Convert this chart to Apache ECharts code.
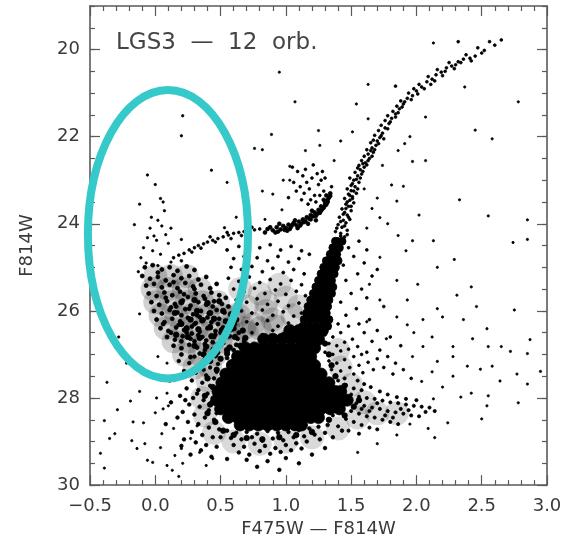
<!DOCTYPE html>
<html>
<head>
<meta charset="utf-8">
<script src="https://cdn.jsdelivr.net/npm/echarts@6/dist/echarts.min.js"></script>
<style>html,body{margin:0;padding:0;background:#fff;}#c{width:567px;height:543px;}</style>
</head>
<body>
<div id="c"></div>
<script>
// ---- text / ticks ----
const titleText = 'LGS3  —  12  orb.';
const xName = 'F475W — F814W';
const yName = 'F814W';
const xRange = [-0.5, 3.0];
const yRange = [19, 30];
const yLabelValues = [20, 22, 24, 26, 28, 30];
// highlighted region (data units): centre x, centre y, half-width, half-height
const ellipseRegion = [0.097, 24.24, 0.613, 3.31];

// ---- data (F475W-F814W, F814W) ----
const coreBlob = [
[1.03,26.45],[1.10,26.45],[1.17,26.45],[1.24,26.45],[1.28,26.45],
[0.83,26.65],[0.90,26.65],[0.97,26.65],[1.04,26.65],[1.11,26.65],[1.18,26.65],[1.25,26.65],
[0.69,26.85],[0.76,26.85],[0.83,26.85],[0.90,26.85],[0.97,26.85],[1.04,26.85],[1.11,26.85],[1.17,26.85],[1.22,26.85],
[0.63,27.05],[0.70,27.05],[0.77,27.05],[0.84,27.05],[0.91,27.05],[0.98,27.05],[1.05,27.05],[1.12,27.05],[1.19,27.05],
[0.59,27.25],[0.66,27.25],[0.73,27.25],[0.80,27.25],[0.87,27.25],[0.94,27.25],[1.01,27.25],[1.08,27.25],[1.15,27.25],[1.22,27.25],
[0.54,27.45],[0.61,27.45],[0.68,27.45],[0.75,27.45],[0.82,27.45],[0.89,27.45],[0.96,27.45],[1.03,27.45],[1.10,27.45],[1.17,27.45],[1.24,27.45],[1.27,27.45],
[0.51,27.65],[0.58,27.65],[0.65,27.65],[0.72,27.65],[0.79,27.65],[0.86,27.65],[0.93,27.65],[1.00,27.65],[1.07,27.65],[1.14,27.65],[1.21,27.65],[1.28,27.65],[1.33,27.65],
[0.48,27.85],[0.55,27.85],[0.62,27.85],[0.69,27.85],[0.76,27.85],[0.83,27.85],[0.90,27.85],[0.97,27.85],[1.04,27.85],[1.11,27.85],[1.18,27.85],[1.25,27.85],[1.32,27.85],[1.38,27.85],[1.42,27.85],
[0.47,28.05],[0.54,28.05],[0.61,28.05],[0.68,28.05],[0.75,28.05],[0.82,28.05],[0.89,28.05],[0.96,28.05],[1.03,28.05],[1.10,28.05],[1.17,28.05],[1.24,28.05],[1.31,28.05],[1.38,28.05],[1.44,28.05],[1.47,28.05],
[0.50,28.25],[0.57,28.25],[0.64,28.25],[0.71,28.25],[0.78,28.25],[0.85,28.25],[0.92,28.25],[0.99,28.25],[1.06,28.25],[1.13,28.25],[1.20,28.25],[1.27,28.25],[1.34,28.25],[1.41,28.25],
[0.56,28.45],[0.63,28.45],[0.70,28.45],[0.77,28.45],[0.84,28.45],[0.91,28.45],[0.98,28.45],[1.05,28.45],[1.12,28.45],[1.19,28.45],[1.25,28.45],
[0.65,28.62],[0.72,28.62],[0.79,28.62],[0.86,28.62],[0.93,28.62],[1.00,28.62],[1.07,28.62],[1.12,28.62]
];
const rgbLower = [
[1.13,26.35],[1.18,26.35],[1.23,26.35],[1.28,26.35],[1.32,26.35],
[1.14,26.2],[1.19,26.2],[1.24,26.2],[1.29,26.2],[1.33,26.2],
[1.16,26.05],[1.21,26.05],[1.26,26.05],[1.31,26.05],
[1.17,25.9],[1.22,25.9],[1.27,25.9],[1.32,25.9],
[1.19,25.75],[1.24,25.75],[1.29,25.75],[1.33,25.75],
[1.21,25.6],[1.26,25.6],[1.30,25.6],[1.35,25.6],
[1.23,25.45],[1.28,25.45],[1.32,25.45],[1.36,25.45],
[1.25,25.3],[1.30,25.3],[1.35,25.3],
[1.27,25.15],[1.32,25.15],[1.37,25.15],
[1.29,25.0],[1.34,25.0],[1.38,25.0],
[1.31,24.85],[1.36,24.85],[1.40,24.85],
[1.34,24.7],[1.39,24.7],
[1.36,24.55],[1.41,24.55],
[1.38,24.4],[1.43,24.4]
];
const rgbUpper = [
[1.40,24.35],[1.45,24.3],[1.42,24.22],[1.38,24.18],[1.47,24.15],[1.43,24.08],[1.40,24.02],[1.46,23.98],[1.44,23.92],[1.49,23.9],
[1.41,23.85],[1.47,23.8],[1.45,23.74],[1.50,23.7],[1.43,23.66],[1.48,23.6],[1.46,23.55],[1.52,23.52],[1.49,23.46],[1.45,23.42],
[1.51,23.38],[1.48,23.32],[1.54,23.3],[1.50,23.24],[1.47,23.2],[1.53,23.15],[1.51,23.08],[1.56,23.05],[1.52,23.0],[1.49,22.95],
[1.55,22.9],[1.58,22.86],[1.53,22.82],[1.57,22.76],[1.60,22.7],[1.56,22.66],[1.61,22.6],[1.58,22.55],[1.64,22.5],[1.60,22.45],
[1.63,22.4],[1.67,22.36],[1.62,22.3],[1.66,22.26],[1.69,22.2],[1.65,22.14],[1.70,22.1],[1.72,22.02],[1.68,21.97],[1.74,21.92],
[1.71,21.86],[1.76,21.8],[1.73,21.74],[1.79,21.7],[1.76,21.63],[1.81,21.58],[1.78,21.52],[1.84,21.48],[1.82,21.42],[1.87,21.36],
[1.85,21.3],[1.90,21.25],[1.88,21.18],[1.93,21.12],[1.97,21.06],[1.94,21.0],[2.00,20.95],[1.98,20.9],[2.04,20.86],[2.02,20.8],
[2.08,20.74],[2.12,20.68],[2.09,20.62],[2.15,20.58],[2.19,20.52],[2.16,20.46],[2.23,20.42],[2.27,20.38],[2.25,20.3],[2.32,20.28],
[2.36,20.22],[2.41,20.2],[2.38,20.12],[2.45,20.15],[2.50,20.08],[2.47,19.96],[2.56,19.82],[2.65,19.78],[2.32,19.82],[1.84,20.84],
[1.42,24.28],[1.47,24.25],[1.39,24.1],[1.45,24.05],[1.42,23.95],[1.48,23.85],[1.44,23.78],[1.46,23.65],[1.50,23.6],[1.47,23.5],
[1.51,23.42],[1.49,23.35],[1.52,23.25],[1.55,23.2],[1.50,23.12],[1.54,22.98],[1.57,22.95],[1.59,22.8],[1.55,22.72],[1.62,22.65],
[1.59,22.62],[1.63,22.55],[1.66,22.45],[1.65,22.32],[1.68,22.3],[1.71,22.16],[1.67,22.08],[1.75,22.05],[1.73,21.98],[1.78,21.82],
[1.80,21.66],[1.84,21.55],[1.86,21.45],[1.89,21.32],[1.91,21.2],[1.96,21.15],[2.01,21.02],[2.06,20.9],[2.11,20.8],[2.14,20.72],
[2.20,20.6],[2.22,20.5],[2.29,20.44],[2.30,20.35],[2.34,20.3],[2.42,20.26],[2.52,20.02],[2.60,19.9]
];
const redHB = [
[0.86,24.12],[0.90,24.15],[0.93,24.08],[0.96,24.13],[0.98,24.05],[1.00,24.1],[1.02,24.02],[1.04,24.07],[1.06,23.98],[1.08,24.03],
[1.10,23.95],[1.12,23.99],[1.13,23.9],[1.15,23.94],[1.16,23.85],[1.18,23.88],[1.19,23.8],[1.21,23.83],[1.22,23.74],[1.24,23.77],
[1.25,23.68],[1.27,23.7],[1.27,23.6],[1.29,23.63],[1.30,23.52],[1.31,23.56],[1.32,23.45],[1.33,23.4],[1.31,23.35],[1.34,23.3],
[0.92,24.2],[1.01,24.16],[1.09,24.1],[1.17,24.0],[1.23,23.92],[1.07,23.92],[1.20,23.7],[0.84,24.2],[0.95,24.0],
[0.88,24.08],[0.94,24.18],[0.99,24.14],[1.03,24.12],[1.05,24.02],[1.11,24.04],[1.14,23.96],[1.19,23.9],[1.23,23.82],[1.26,23.75],
[1.28,23.66],[1.30,23.58],[1.32,23.5],[1.29,23.45],[1.34,23.36]
];
const redClump = [
[1.14,23.3],[1.18,23.2],[1.22,23.35],[1.25,23.1],[1.16,23.05],[1.20,22.95],[1.27,23.0],[1.13,22.9],[1.24,22.85],[1.29,23.25],
[1.11,23.15],[1.19,23.45],[1.23,23.5],[1.15,22.75],[1.09,22.8],[1.28,22.8],[1.06,23.05],[1.21,22.65],[1.17,23.55],[1.12,23.45],
[1.30,22.95],[1.26,23.35],[1.08,23.25],[1.02,23.4],[1.05,22.7],[1.35,23.15]
];
const blueHB = [
[0.14,24.78],[0.18,24.72],[0.22,24.68],[0.26,24.6],[0.30,24.55],[0.33,24.5],[0.37,24.46],[0.40,24.42],[0.44,24.38],[0.48,24.34],
[0.52,24.3],[0.56,24.26],[0.60,24.22],[0.64,24.2],[0.68,24.18],[0.72,24.16],[0.76,24.14],[0.80,24.12],[0.28,24.65],[0.35,24.56],
[0.46,24.42],[0.55,24.2],[0.66,24.27],[0.74,24.08],[0.42,24.3],[0.20,24.85],[0.58,24.34]
];
const plumeUpper = [
[-0.06,22.88],[0.00,23.1],[0.04,23.42],[-0.12,23.55],[0.06,23.5],[-0.03,23.85],[0.02,23.92],[-0.16,24.02],[-0.04,24.1],[0.05,24.05],
[-0.06,24.32],[0.01,24.38],[-0.09,24.55],[0.08,24.25],[-0.02,24.62],[0.04,24.7],[-0.11,24.78],[0.10,24.45],[0.43,22.77],[0.20,21.98],
[0.21,21.52],[0.20,24.36],[0.53,24.09],[-0.07,24.9],[0.02,24.96],[0.12,24.88],[-0.13,25.1],[0.07,23.7],[0.12,24.1],[-0.01,24.28]
];
const plumeMain = [
[-0.08,25.0],[-0.02,24.95],[0.05,25.05],[0.11,25.0],[0.17,25.08],[0.24,24.98],[0.30,25.06],[0.02,25.12],
[-0.10,25.2],[-0.04,25.26],[0.02,25.22],[0.08,25.3],[0.14,25.18],[0.20,25.25],[0.26,25.2],[0.33,25.28],[0.39,25.22],
[-0.07,25.42],[-0.01,25.38],[0.05,25.46],[0.11,25.4],[0.17,25.48],[0.23,25.36],[0.29,25.44],[0.35,25.4],[0.42,25.48],[0.47,25.38],
[-0.05,25.6],[0.01,25.66],[0.07,25.58],[0.13,25.64],[0.19,25.56],[0.25,25.68],[0.31,25.6],[0.37,25.66],[0.43,25.58],[0.49,25.64],[0.54,25.7],
[-0.03,25.8],[0.03,25.86],[0.09,25.78],[0.15,25.84],[0.21,25.76],[0.27,25.88],[0.33,25.8],[0.39,25.86],[0.45,25.78],[0.51,25.84],[0.56,25.9],[0.12,25.92],
[-0.01,26.0],[0.05,26.06],[0.11,25.98],[0.17,26.04],[0.23,25.96],[0.29,26.08],[0.35,26.0],[0.41,26.06],[0.47,25.98],[0.53,26.04],[0.58,26.1],[0.20,26.1],
[0.01,26.2],[0.07,26.26],[0.13,26.18],[0.19,26.24],[0.25,26.16],[0.31,26.28],[0.37,26.2],[0.43,26.26],[0.49,26.18],[0.55,26.24],[0.61,26.3],[0.34,26.14],
[0.04,26.4],[0.10,26.46],[0.16,26.38],[0.22,26.44],[0.28,26.36],[0.34,26.48],[0.40,26.4],[0.46,26.46],[0.52,26.38],[0.58,26.44],[0.64,26.5],[0.28,26.52],
[0.09,26.6],[0.15,26.66],[0.21,26.58],[0.27,26.64],[0.33,26.56],[0.39,26.68],[0.45,26.6],[0.51,26.66],[0.57,26.58],[0.63,26.64],[0.68,26.7],
[0.14,26.8],[0.20,26.86],[0.26,26.78],[0.32,26.84],[0.38,26.76],[0.44,26.88],[0.50,26.8],[0.56,26.86],[0.62,26.78],
[0.20,27.0],[0.27,27.06],[0.34,26.98],[0.41,27.04],[0.48,26.96],[0.55,27.08],
[0.30,26.3],[0.42,26.35],[0.50,26.5],[0.36,26.6],[0.44,26.72],[0.52,26.74],[0.46,26.55],[0.38,26.9],[0.30,26.7],[0.24,26.5],
[0.18,26.32],[0.40,26.15],[0.48,26.3],[0.56,26.58],[0.60,26.9],[0.32,26.1],[0.26,25.95],[0.44,25.9],[0.38,25.72],[0.30,25.5],
[0.22,25.62],[0.14,25.34],[0.08,25.7],[0.16,25.9],[0.06,26.3],[0.12,26.5],[0.20,26.7]
];
const plumeDense = [
[0.32,26.0],[0.42,26.05],[0.52,26.0],[0.58,26.08],
[0.27,26.2],[0.36,26.22],[0.45,26.18],[0.54,26.24],[0.62,26.2],
[0.24,26.4],[0.33,26.42],[0.42,26.38],[0.51,26.44],[0.60,26.4],[0.67,26.45],
[0.25,26.6],[0.34,26.62],[0.43,26.58],[0.52,26.64],[0.61,26.6],[0.69,26.62],
[0.30,26.8],[0.39,26.82],[0.48,26.78],[0.57,26.84],[0.65,26.8],
[0.37,27.0],[0.46,27.02],[0.55,26.98],
[0.20,25.8],[0.30,25.75],[0.40,25.82],[0.49,25.78],
[0.15,26.05],[0.20,26.3],[0.16,26.55]
];
// soft density shading (where the stars overlap into grey)
const plumeShade = [
[0.00,25.2],[0.12,25.2],[0.24,25.2],
[-0.02,25.5],[0.10,25.5],[0.22,25.5],[0.34,25.5],
[0.00,25.8],[0.12,25.8],[0.24,25.8],[0.36,25.8],[0.48,25.8],
[0.04,26.1],[0.16,26.1],[0.28,26.1],[0.40,26.1],[0.52,26.1],[0.64,26.1],
[0.08,26.4],[0.20,26.4],[0.32,26.4],[0.44,26.4],[0.56,26.4],[0.68,26.4],[0.80,26.4],[0.92,26.35],
[0.14,26.7],[0.26,26.7],[0.38,26.7],[0.50,26.7],[0.62,26.7],
[0.22,27.0],[0.34,27.0],[0.46,27.0],
[0.30,27.3],[0.42,27.3]
];
const haloShade = [
[0.40,27.6],[0.36,28.0],[0.38,28.4],[0.45,28.8],[0.60,29.0],[0.80,29.05],[1.00,29.0],[1.20,28.9],[1.40,28.7],[1.55,28.45],
[1.70,28.35],[1.85,28.35],[1.60,28.1],[1.50,27.7],[1.42,27.3],[1.40,26.9],[0.75,26.3],[0.90,26.2],[1.05,26.1],
[0.70,25.9],[0.85,25.8],[1.00,25.7],[0.65,25.5],[0.95,25.4],[0.80,25.6],[0.60,26.1],[1.10,25.9],[0.85,26.0],[0.70,26.5]
];
const haloDense = [
[0.42,27.15],[0.47,27.35],[0.40,27.55],[0.44,27.75],[0.38,27.95],[0.42,28.15],[0.40,28.35],[0.46,28.55],[0.52,28.75],[0.60,28.85],
[0.70,28.92],[0.82,28.95],[0.95,28.9],[1.08,28.85],[1.20,28.78],[1.33,28.5],[1.45,28.4],[1.52,28.2],[1.56,28.05],[1.45,27.72],
[1.38,27.5],[1.35,27.25],[1.33,27.0],[1.30,26.75],[0.55,26.9],[0.50,27.1]
];
const haloLeft = [
[0.30,27.05],[0.38,27.1],[0.45,27.02],[0.26,27.2],[0.34,27.25],[0.42,27.3],[0.48,27.22],[0.22,27.38],[0.31,27.42],[0.39,27.48],
[0.45,27.55],[0.28,27.6],[0.36,27.65],[0.42,27.72],[0.24,27.78],[0.33,27.82],[0.40,27.9],[0.19,27.95],[0.29,28.0],[0.37,28.05],
[0.26,28.15],[0.34,28.2],[0.41,28.28],[0.21,28.32],[0.30,28.38],[0.38,28.45],[0.45,28.5],[0.25,28.55],[0.33,28.6],[0.41,28.68],
[0.49,28.72],[0.28,28.78],[0.36,28.85],[0.44,28.9],[0.22,28.95],[0.31,29.02],[0.39,29.08],[0.47,29.12],[0.35,29.2],[0.27,29.3],
[0.43,29.35],[0.15,27.55],[0.12,28.1],[0.17,28.45],[0.20,29.1],[0.47,27.4],[0.43,28.1],[0.47,28.35],[0.50,28.9],[0.37,27.35],
[0.18,27.15],[0.11,27.6],[0.08,28.6],[0.23,28.05],[0.32,27.9],[0.44,28.0]
];
const haloBelow = [
[0.55,28.75],[0.62,28.8],[0.70,28.78],[0.78,28.82],[0.86,28.76],[0.94,28.8],[1.02,28.78],[1.10,28.74],[1.18,28.7],[1.25,28.66],
[1.32,28.62],[0.58,28.92],[0.66,28.95],[0.74,28.9],[0.82,28.98],[0.90,28.93],[0.98,28.97],[1.06,28.9],[1.14,28.88],[1.22,28.84],
[1.30,28.8],[0.60,29.08],[0.68,29.12],[0.76,29.05],[0.84,29.1],[0.92,29.15],[1.00,29.08],[1.08,29.04],[1.16,29.0],[1.26,28.95],
[0.64,29.25],[0.72,29.3],[0.80,29.22],[0.88,29.28],[0.96,29.24],[1.04,29.2],[1.12,29.16],[0.70,29.42],[0.86,29.45],[1.00,29.38],
[1.20,29.3],[0.55,29.4],[1.36,28.9],[1.43,28.75],[1.10,29.5],[0.78,29.58],[0.95,29.65],[1.30,29.15]
];
const haloTail = [
[1.40,27.6],[1.46,27.7],[1.52,27.78],[1.58,27.82],[1.44,27.85],[1.50,27.92],[1.56,27.97],[1.62,28.0],[1.68,28.02],[1.74,28.06],
[1.80,28.1],[1.86,28.12],[1.92,28.15],[1.98,28.18],[2.04,28.2],[2.10,28.22],[1.54,28.12],[1.60,28.18],[1.66,28.22],[1.72,28.25],
[1.78,28.3],[1.84,28.33],[1.90,28.36],[1.96,28.4],[2.02,28.42],[1.50,28.3],[1.56,28.36],[1.62,28.42],[1.68,28.45],[1.74,28.5],
[1.80,28.55],[1.86,28.6],[1.46,28.48],[1.52,28.55],[1.58,28.62],[1.64,28.68],[1.70,28.72],[1.40,28.65],[1.48,28.75],[1.56,28.82],
[1.38,27.48],[1.45,27.55],[1.55,27.6],[1.65,27.75],[1.72,27.85],[1.78,27.92],[1.85,27.98],[1.92,28.02],[2.00,28.05],[1.60,27.68],
[1.70,28.12],[1.88,28.25],[1.94,28.28],[2.07,28.32],[2.14,28.3],[1.76,28.4],[1.64,28.3],[1.82,28.45],[1.58,28.25],[1.48,28.02],
[1.42,28.28],[1.36,28.4]
];
const haloRight = [
[1.30,26.55],[1.36,26.6],[1.42,26.5],[1.33,26.75],[1.39,26.8],[1.45,26.72],[1.51,26.65],[1.30,26.95],[1.36,27.0],[1.42,26.92],
[1.48,26.88],[1.55,26.82],[1.33,27.15],[1.39,27.2],[1.45,27.12],[1.52,27.05],[1.58,27.0],[1.35,27.35],[1.42,27.38],[1.49,27.3],
[1.56,27.25],[1.63,27.18],[1.70,27.1],[1.60,26.5],[1.66,26.7],[1.72,26.9],[1.78,27.05],[1.67,27.35],[1.75,27.3],[1.84,27.2],
[1.48,26.35],[1.56,26.3],[1.64,26.2],[1.70,26.45],[1.80,26.6],[1.88,26.8],[1.62,26.95],[1.52,27.45],[1.59,27.42],[1.82,27.45],
[1.90,27.35],[1.96,27.55],[1.40,26.3],[1.46,26.1],[1.54,25.95],[1.42,25.8],[1.50,25.6],[1.58,25.5],[1.46,25.3],[1.55,25.15],
[1.44,24.95],[1.52,24.75],[1.60,24.9],[1.66,25.2],[1.70,25.05],[1.62,25.7],[1.75,25.9],[1.48,24.55],[1.56,24.4],[1.62,24.6]
];
const haloMid = [
[0.55,24.6],[0.64,24.52],[0.72,24.45],[0.80,24.55],[0.88,24.48],[0.96,24.6],[1.04,24.52],[1.12,24.62],[0.60,24.8],[0.68,24.75],
[0.78,24.78],[0.86,24.85],[0.94,24.75],[1.02,24.88],[1.10,24.8],[1.18,24.7],[0.58,25.0],[0.66,25.05],[0.74,24.98],[0.82,25.1],
[0.90,25.02],[0.98,25.12],[1.06,25.05],[1.14,25.15],[0.56,25.25],[0.64,25.32],[0.72,25.22],[0.80,25.35],[0.88,25.28],[0.96,25.38],
[1.04,25.3],[1.12,25.4],[0.60,25.5],[0.68,25.56],[0.76,25.48],[0.84,25.6],[0.92,25.52],[1.00,25.62],[1.08,25.55],[1.15,25.65],
[0.62,25.75],[0.70,25.8],[0.78,25.72],[0.86,25.85],[0.94,25.78],[1.02,25.88],[1.10,25.82],[0.66,26.0],[0.74,26.05],[0.82,25.98],
[0.90,26.1],[0.98,26.02],[1.06,26.12],[1.12,26.05],[0.70,26.25],[0.78,26.3],[0.86,26.22],[0.94,26.35],[1.02,26.28],[0.74,26.5],
[0.82,26.55],[0.90,26.45],[0.98,26.52],[0.68,26.65],[1.08,26.4]
];
const fieldUpper = [
[2.13,19.85],[1.63,20.8],[1.07,21.2],[1.54,21.25],[2.37,20.86],[2.78,21.2],[2.07,21.55],[1.63,21.59],[1.25,21.86],[1.51,21.89],
[1.95,22.0],[2.58,22.05],[1.26,22.2],[1.91,22.16],[1.97,22.57],[2.07,22.55],[1.74,22.66],[1.86,22.32],[1.15,22.32],[2.33,23.45],
[2.55,23.82],[2.85,23.91],[1.81,23.11],[1.90,23.14],[1.70,23.41],[1.85,23.48],[1.72,23.86],[2.13,24.39],[1.97,24.39],[1.86,24.27],
[2.74,24.43],[2.85,24.36],[2.29,24.82],[2.16,25.0],[1.72,24.77],[0.95,20.52],[0.89,21.95],[0.76,22.27],[0.82,22.3],[1.03,22.68],
[0.98,23.0],[0.82,23.25],[0.90,23.32],[0.97,23.68],[1.03,23.0],[0.84,23.9],[0.70,23.5],[0.62,23.85],[1.62,24.1],[1.66,23.65],
[1.60,23.2],[1.78,24.0],[2.02,23.8],[1.92,24.62],[2.45,21.85],[1.42,22.1],[1.37,22.55],[0.55,23.05]
];
const fieldLower = [
[1.64,25.39],[1.85,25.3],[2.01,25.39],[2.42,25.45],[2.31,25.64],[1.72,25.75],[1.93,25.75],[2.16,25.95],[2.75,25.98],[2.46,25.9],
[1.85,26.14],[2.36,26.2],[2.05,26.2],[2.20,26.14],[1.62,26.25],[1.93,26.32],[2.54,26.41],[2.43,26.64],[1.77,26.64],[2.87,26.66],
[2.28,26.82],[2.55,26.82],[2.65,26.82],[2.72,26.93],[2.85,26.98],[2.05,26.82],[1.97,27.05],[2.16,27.16],[2.28,27.05],[2.39,27.27],
[2.49,27.34],[2.58,27.27],[2.95,27.39],[2.77,27.45],[2.64,27.61],[2.85,27.68],[2.55,27.95],[2.78,28.11],[2.13,28.02],[2.54,28.18],
[2.24,28.57],[2.50,28.48],[2.14,28.91],[2.09,28.7],[2.42,27.89],[2.28,27.5],[2.20,27.75],[2.34,27.98],[2.04,27.62],[2.12,27.4],
[1.98,26.5],[2.12,26.6],[1.70,29.05],[1.55,29.25],[1.85,28.85],[1.95,28.6],
[-0.37,27.64],[-0.29,28.27],[-0.19,28.07],[-0.39,28.52],[-0.17,28.55],[-0.35,28.93],[-0.31,28.82],[-0.42,29.27],[-0.39,29.61],[-0.14,29.16],
[-0.06,29.43],[-0.02,29.48],[0.04,29.14],[0.09,29.55],[0.13,29.66],[0.15,29.32],[0.21,29.5],[-0.09,28.57],[0.00,28.34],[0.06,28.25],
[0.01,28.0],[0.10,28.18],[0.14,28.7],[0.05,28.82],[-0.08,29.05],[-0.18,28.98],[0.09,27.89],[-0.12,26.07],[0.09,27.2],[0.20,29.16],
[0.27,28.93],[0.34,29.25],[0.32,28.64],[0.44,29.39],[0.39,29.55],[-0.22,27.2],[-0.28,26.6],[-0.05,27.5],[0.02,27.05],[-0.12,27.85],[0.18,29.8]
];

// ---- chart ----
const chart = echarts.init(document.getElementById('c'), null, {renderer: 'canvas'});
const frame = {color: '#5a5a5a', width: 1.6};
const tickStyle = {color: '#5a5a5a', width: 1.2};
const labelFont = {fontFamily: 'DejaVu Sans', fontSize: 18, color: '#3a3a3a'};
const fmtX = v => v.toFixed(1).replace('-', '\u2212');

function xAx(pos, showLabel) {
  return {
    type: 'value', position: pos, min: xRange[0], max: xRange[1], interval: 0.5,
    axisLine: {show: true, onZero: false, lineStyle: frame},
    axisTick: {show: true, inside: true, length: 10, lineStyle: tickStyle},
    minorTick: {show: true, splitNumber: 5, length: 5, lineStyle: tickStyle},
    splitLine: {show: false}, minorSplitLine: {show: false},
    axisLabel: showLabel ? Object.assign({formatter: fmtX, margin: 12}, labelFont) : {show: false},
    name: showLabel ? xName : '', nameLocation: 'middle', nameGap: 31,
    nameTextStyle: {fontFamily: 'DejaVu Sans', fontSize: 18, color: '#3a3a3a'}
  };
}
function yMinor(pos) {
  return {
    type: 'value', position: pos, inverse: true, min: yRange[0], max: yRange[1], interval: 0.5,
    axisLine: {show: true, onZero: false, lineStyle: frame},
    axisTick: {show: true, inside: true, length: 5, lineStyle: tickStyle},
    splitLine: {show: false}, axisLabel: {show: false}
  };
}
function yMajor(pos, showLabel) {
  return {
    type: 'value', position: pos, inverse: true, min: yRange[0], max: yRange[1],
    axisLine: {show: false, onZero: false},
    axisTick: {show: true, inside: true, length: 10, customValues: yLabelValues, lineStyle: tickStyle},
    splitLine: {show: false},
    axisLabel: showLabel ? Object.assign({customValues: yLabelValues, margin: 10}, labelFont) : {show: false},
    name: showLabel ? yName : '', nameLocation: 'middle', nameGap: 54, nameRotate: 90,
    nameTextStyle: {fontFamily: 'DejaVu Sans', fontSize: 18, color: '#3a3a3a'}
  };
}
function pts(data, size, alpha) {
  const a = alpha === undefined ? 1 : alpha;
  return {
    type: 'scatter', xAxisIndex: 0, yAxisIndex: 0, data: data,
    symbol: 'circle', symbolSize: size, silent: true,
    itemStyle: {color: '#000', opacity: a, borderWidth: a < 1 ? 0 : 0.8, borderColor: '#000'},
    emphasis: {disabled: true}
  };
}

chart.setOption({
  animation: false,
  backgroundColor: '#fff',
  title: {
    text: titleText, left: 111, top: 27,
    textStyle: {fontFamily: 'DejaVu Sans', fontSize: 23, fontWeight: 'normal', color: '#444'}
  },
  grid: {left: 90, right: 20, top: 6, bottom: 52},
  xAxis: [xAx('bottom', true), xAx('top', false)],
  yAxis: [yMinor('left'), yMajor('left', true), yMinor('right'), yMajor('right', false)],
  series: [
    pts(plumeShade, 24, 0.18), pts(haloShade, 24, 0.15),
    pts(coreBlob, 12), pts(rgbLower, 8),
    pts(rgbUpper, 2.8), pts(redHB, 3.8), pts(redClump, 2.8), pts(blueHB, 2.8),
    pts(plumeUpper, 2.4), pts(plumeMain, 4), pts(plumeDense, 5.5), pts(haloDense, 5.5),
    pts(haloLeft, 3.6), pts(haloBelow, 3.6),
    pts(haloTail, 3.2), pts(haloRight, 2.8), pts(haloMid, 3),
    pts(fieldUpper, 2.3), pts(fieldLower, 2.3)
  ]
});

// highlight ellipse positioned through the axes
const c0 = chart.convertToPixel({gridIndex: 0}, [ellipseRegion[0], ellipseRegion[1]]);
const cx1 = chart.convertToPixel({gridIndex: 0}, [ellipseRegion[0] + ellipseRegion[2], ellipseRegion[1]]);
const cy1 = chart.convertToPixel({gridIndex: 0}, [ellipseRegion[0], ellipseRegion[1] + ellipseRegion[3]]);
chart.setOption({
  graphic: [{
    type: 'ellipse', z: 100, silent: true,
    shape: {cx: c0[0], cy: c0[1], rx: Math.abs(cx1[0] - c0[0]), ry: Math.abs(cy1[1] - c0[1])},
    style: {fill: 'none', stroke: '#35c9c9', lineWidth: 8}
  }]
});
</script>
</body>
</html>
